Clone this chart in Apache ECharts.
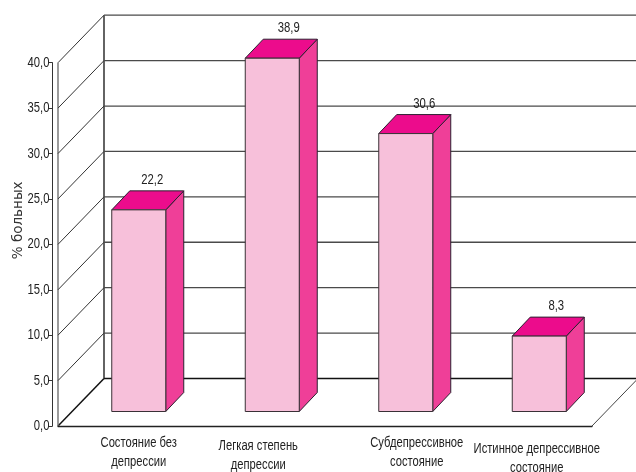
<!DOCTYPE html>
<html><head><meta charset="utf-8">
<style>html,body{margin:0;padding:0;background:#fff}#c{width:636px;height:472px}</style>
<script src="https://cdn.jsdelivr.net/npm/echarts@6/dist/echarts.min.js"></script>
</head><body><div id="c"></div>
<script>
const categories = ['Состояние без\nдепрессии','Легкая степень\nдепрессии','Субдепрессивное\nсостояние','Истинное депрессивное\nсостояние'];
const values = [22.2, 38.9, 30.6, 8.3];
const ticks = [0,5,10,15,20,25,30,35,40];
const yTitle = '% больных';

const SANS = '"Liberation Sans",sans-serif';
const wallDX = 46, wallDY = 47.5;
const barHalf = 27, barShiftX = 14, barShiftY = 14.5, barDX = 18, barDY = 19;
const labelNudge = [4.5, 7.5, 9.5, 8];
const catShift = [[14,8],[0,11],[25,8],[11.5,13.5]];
const comma = v => v.toFixed(1).replace('.', ',');
const GRID = '#4a4a4a', DARK = '#2b2230', INK = '#222';

function seg(x1,y1,x2,y2,stroke,w){
  return {type:'line',shape:{x1,y1,x2,y2},style:{stroke,lineWidth:w,fill:null}};
}
function narrow(text,x,y,size,align,sx,extra){
  return {type:'text',x,y,scaleX:sx,style:Object.assign({text,fill:INK,font:size+'px '+SANS,align,verticalAlign:'middle'},extra||{})};
}
function renderWall(params, api){
  const cs = params.coordSys, v = api.value(0);
  const y = api.coord([0, v])[1];
  const xL = cs.x, xR = cs.x + cs.width, bx = xL + wallDX, by = y - wallDY;
  const strong = v === 0;
  const children = [
    seg(xL,y,bx,by, strong?'#111':'#333', strong?1.5:1),
    seg(bx,by,xR+wallDX,by, strong?'#111':GRID, strong?1.6:1.3)
  ];
  if (v === 0) {
    children.push(seg(xR,y,xR+wallDX,by,'#444',1));
    children.push(seg(bx,by,bx,by-cs.height,'#222',1.4));
    children.push(seg(xL,y,xL,y-cs.height,'#666',1.3));
  }
  children.push(narrow(comma(v),xL-8.5,y,15,'right',0.75));
  return {type:'group',children};
}
function renderBar(params, api){
  const i = api.value(0), v = api.value(1);
  const c0 = api.coord([i,0]), c1 = api.coord([i,v]);
  const cx = c0[0] + barShiftX, l = cx - barHalf, r = cx + barHalf;
  const b = c0[1] - barShiftY, t = c1[1] - barShiftY;
  const edge = {stroke:DARK,lineWidth:1,lineJoin:'round'};
  return {type:'group',children:[
    {type:'polygon',shape:{points:[[r,t],[r+barDX,t-barDY],[r+barDX,b-barDY],[r,b]]},style:Object.assign({fill:'#EF3F98'},edge)},
    {type:'polygon',shape:{points:[[l,t],[l+barDX,t-barDY],[r+barDX,t-barDY],[r,t]]},style:Object.assign({fill:'#EC0C8C'},edge)},
    {type:'rect',shape:{x:l,y:t,width:r-l,height:b-t},style:{fill:'#F7C0DA',stroke:'#3a3036',lineWidth:1}},
    narrow(comma(v),cx+barDX/2+labelNudge[i],t-barDY-11,14.5,'center',0.78),
    narrow(categories[i],c0[0]+catShift[i][0],c0[1]+catShift[i][1],14,'center',0.8,{verticalAlign:'top',lineHeight:19})
  ]};
}
const chart = echarts.init(document.getElementById('c'),null,{renderer:'canvas'});
chart.setOption({
  animation:false,
  backgroundColor:'#fff',
  grid:{left:58,right:44,top:62.7,bottom:46,containLabel:false,outerBoundsMode:'none'},
  xAxis:{type:'category',data:categories,boundaryGap:true,
    axisLine:{lineStyle:{color:'#222',width:1.4}},
    axisTick:{length:6,alignWithLabel:false,lineStyle:{color:'#555',width:1}},
    axisLabel:{show:false},
    splitLine:{show:false}},
  yAxis:{type:'value',min:0,max:40,interval:5,offset:5.5,
    name:yTitle,nameLocation:'middle',nameGap:27,nameRotate:90,
    nameTextStyle:{fontFamily:'"DejaVu Sans",sans-serif',fontSize:13.5,color:'#333',padding:[0,0,0,48]},
    axisLine:{show:true,lineStyle:{color:'#333',width:1}},
    axisTick:{show:true,length:4,lineStyle:{color:'#333',width:1}},
    axisLabel:{show:false},
    splitLine:{show:false}},
  series:[
    {type:'custom',z:1,silent:true,renderItem:renderWall,encode:{y:0},data:ticks.map(v=>[v])},
    {type:'custom',z:2,silent:true,renderItem:renderBar,encode:{x:0,y:1},data:values.map((v,i)=>[i,v])}
  ]
});
</script></body></html>
